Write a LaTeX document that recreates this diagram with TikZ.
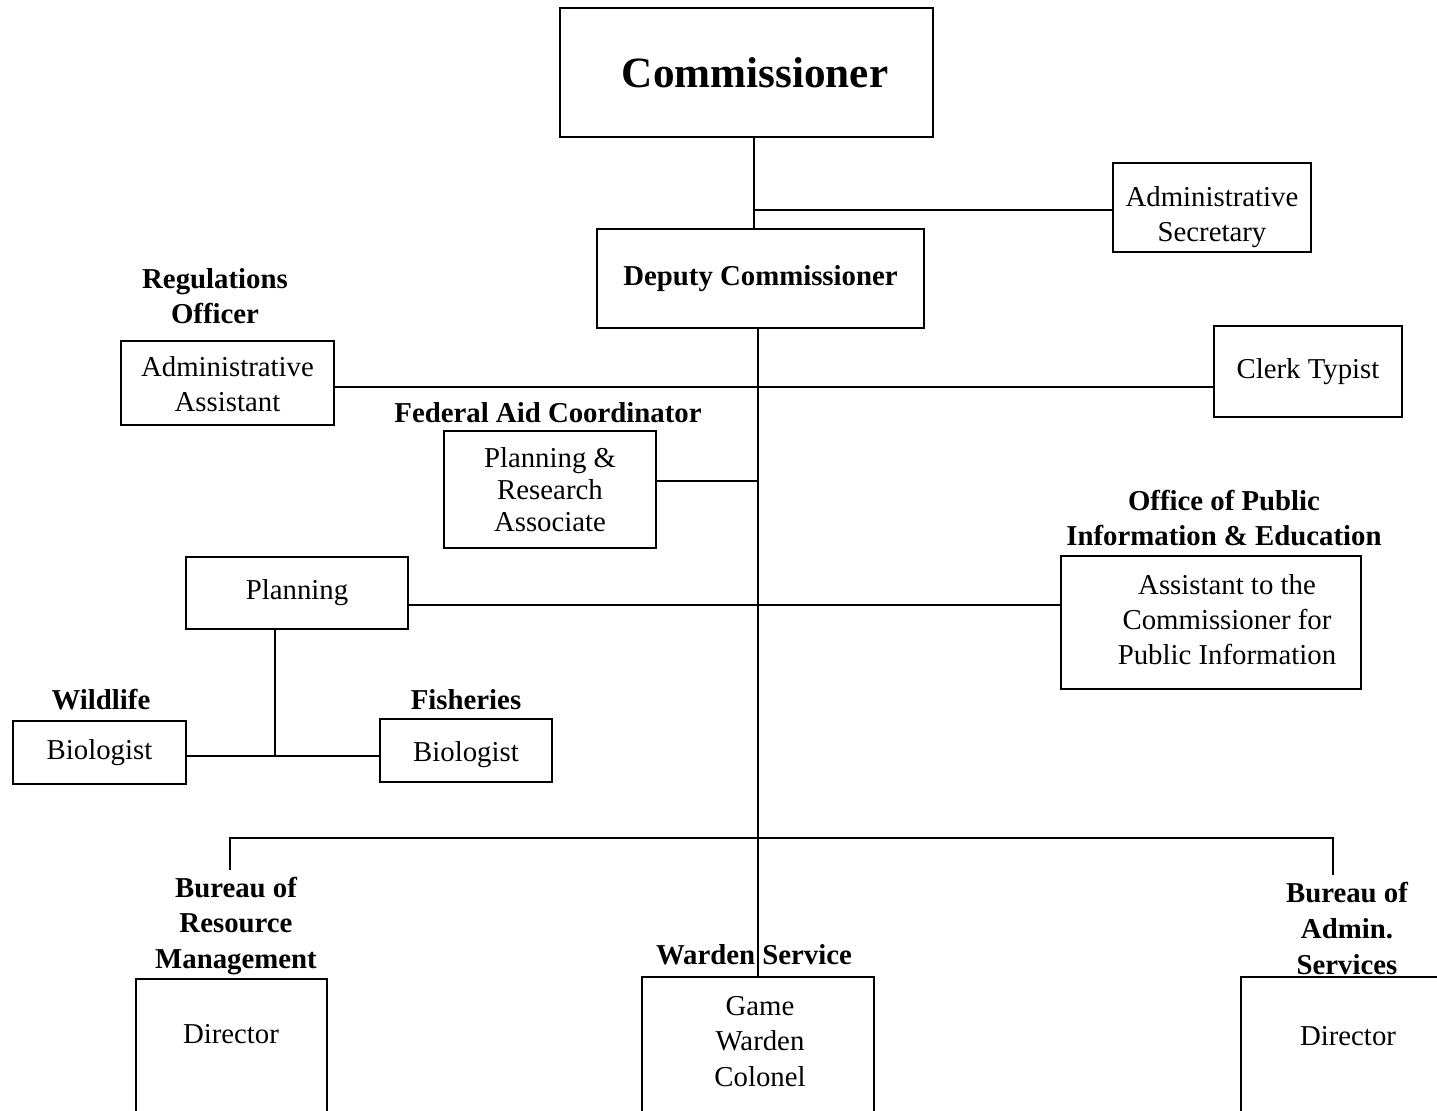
\documentclass[tikz,border=0pt]{standalone}
\usepackage{fontspec}
\setmainfont{Liberation Serif}
\newcommand\mvbox[2]{\raisebox{#1}[\height][\depth]{\begin{tabular}{@{}c@{}}#2\end{tabular}}}
\begin{document}
\begin{tikzpicture}[x=0.5pt,y=-0.5pt,
  base/.style={inner sep=0pt,align=center,font=\fontsize{14.4}{17.5}\selectfont},
  box/.style={base,draw,line width=1pt},
  lbl/.style={base,font=\fontsize{14.4}{17.5}\selectfont\bfseries},
  conn/.style={line width=1.2pt}]
\clip (0,0) rectangle (1437,1110);
\fill[white] (0,0) rectangle (1437,1110);
% boxes
\node[box,minimum width=186.5pt,minimum height=64.5pt,font=\fontsize{21.6}{26}\selectfont\bfseries] (comm) at (746.5,72.5) {\hspace*{8.5pt}Commissioner};
\node[box,minimum width=99pt,minimum height=44.5pt] (sec) at (1212,207.5) {\mvbox{-4.5pt}{Administrative\\Secretary}};
\node[box,minimum width=163.5pt,minimum height=49.5pt,font=\fontsize{14.4}{17.5}\selectfont\bfseries] (dep) at (760.5,278.5) {Deputy Commissioner};
\node[box,minimum width=106.5pt,minimum height=42pt] (aa) at (227.5,383) {\mvbox{-2pt}{Administrative\\Assistant}};
\node[box,minimum width=94pt,minimum height=45.5pt] (clerk) at (1308,371.5) {Clerk Typist};
\node[box,minimum width=106pt,minimum height=58.5pt,font=\fontsize{14.4}{16}\selectfont] (pra) at (550,489.5) {Planning \&\\Research\\Associate};
\node[box,minimum width=111pt,minimum height=36pt] (plan) at (297,593) {Planning};
\node[box,minimum width=150pt,minimum height=66.5pt] (office) at (1211,622.5) {\hspace*{16pt}\mvbox{0pt}{Assistant to the\\Commissioner for\\Public Information}};
\node[box,minimum width=86.5pt,minimum height=31.5pt] (wbio) at (99.5,752.5) {Biologist};
\node[box,minimum width=86pt,minimum height=31.5pt] (fbio) at (466,750.5) {\mvbox{-2pt}{Biologist}};
\node[box,minimum width=95.5pt,minimum height=75.5pt] (rdir) at (231.5,1054.5) {};
\node[box,minimum width=116pt,minimum height=76.5pt] (ward) at (758,1053.5) {};
\node[box,minimum width=107pt,minimum height=76.5pt] (adir) at (1348,1053.5) {};
\node[base] (rdirt) at (231,1034) {Director};
\node[base,font=\fontsize{14.4}{17.75}\selectfont] (wardt) at (760,1041.5) {Game\\Warden\\Colonel};
\node[base] (adirt) at (1348,1036) {Director};
% labels
\node[lbl] (regl) at (215,296.5) {Regulations\\Officer};
\node[lbl] (fedl) at (548,413) {Federal Aid Coordinator};
\node[lbl] (offl) at (1224,518.5) {Office of Public\\Information \& Education};
\node[lbl] (wildl) at (101,700) {Wildlife};
\node[lbl] (fishl) at (466,700) {Fisheries};
\node[lbl,font=\fontsize{14.4}{17.75}\selectfont\bfseries] (brml) at (236,926) {Bureau of\\Resource\\Management};
\node[lbl] (wardl) at (754,955) {Warden Service};
\node[lbl,font=\fontsize{14.4}{18}\selectfont\bfseries] (basl) at (1347,928) {Bureau of\\Admin.\\Services};
% junction coordinates
\coordinate (j1) at (754,210);
\coordinate (spine) at (758,0);
\coordinate (h1) at (0,387);
\coordinate (h2) at (0,481);
\coordinate (h3) at (0,605);
\coordinate (pv) at (275,756);
\coordinate (bus) at (0,838);
\coordinate (bl) at (230,870);
\coordinate (br) at (1333,875);
% connectors
\draw[conn] (j1 |- comm.south) -- (j1 |- dep.north);
\draw[conn] (j1) -- (j1 -| sec.west);
\draw[conn] (spine |- dep.south) -- (spine |- ward.north);
\draw[conn] (aa.east |- h1) -- (clerk.west |- h1);
\draw[conn] (pra.east |- h2) -- (spine |- h2);
\draw[conn] (plan.east |- h3) -- (office.west |- h3);
\draw[conn] (pv |- plan.south) -- (pv);
\draw[conn] (wbio.east |- pv) -- (fbio.west |- pv);
\draw[conn] (bl) -- (bl |- bus) -- (br |- bus) -- (br);
\end{tikzpicture}
\end{document}
